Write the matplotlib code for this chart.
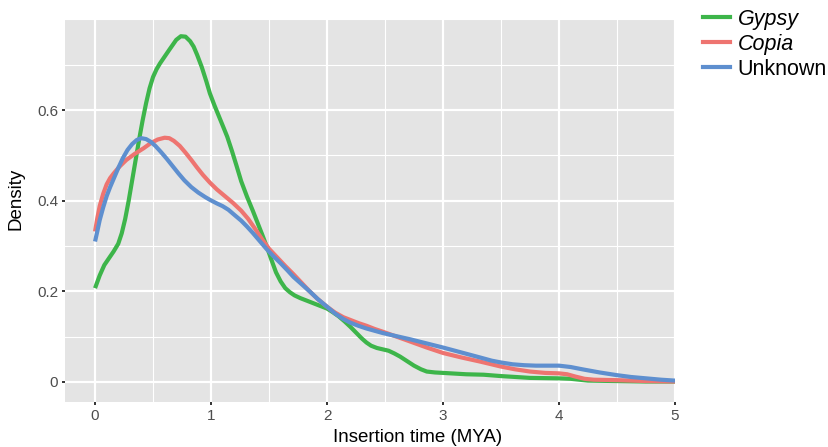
import matplotlib
matplotlib.use("Agg")
import matplotlib.pyplot as plt
from matplotlib.lines import Line2D
from matplotlib.ticker import MultipleLocator

plt.rcParams['font.family'] = ['Liberation Sans', 'DejaVu Sans']

# ---- data ----
gypsy_x = [0.00, 0.04, 0.08, 0.12, 0.16, 0.20, 0.23, 0.26, 0.29, 0.32, 0.35, 0.38, 0.41, 0.44,
           0.47, 0.50, 0.53, 0.56, 0.60, 0.64, 0.67, 0.70, 0.74, 0.78, 0.82, 0.85, 0.88, 0.92,
           0.96, 0.99, 1.03, 1.07, 1.11, 1.14, 1.18, 1.22, 1.26, 1.31, 1.36, 1.40, 1.44, 1.48,
           1.52, 1.56, 1.60, 1.64, 1.68, 1.72, 1.77, 1.85, 1.94, 2.00, 2.05, 2.10, 2.15, 2.20,
           2.25, 2.30, 2.34, 2.38, 2.43, 2.48, 2.53, 2.58, 2.63, 2.69, 2.75, 2.81, 2.86, 2.93,
           3.00, 3.20, 3.35, 3.50, 3.75, 4.00, 4.10, 4.25, 4.50, 4.75, 5.00]
gypsy_y = [0.207, 0.235, 0.258, 0.273, 0.288, 0.305, 0.328, 0.360, 0.400, 0.445, 0.490, 0.535,
           0.577, 0.615, 0.648, 0.673, 0.690, 0.703, 0.718, 0.733, 0.744, 0.755, 0.763, 0.762,
           0.752, 0.740, 0.722, 0.695, 0.663, 0.637, 0.610, 0.585, 0.560, 0.541, 0.510, 0.477,
           0.443, 0.409, 0.378, 0.352, 0.326, 0.299, 0.270, 0.242, 0.222, 0.207, 0.198, 0.191,
           0.185, 0.177, 0.168, 0.162, 0.154, 0.145, 0.134, 0.122, 0.109, 0.096, 0.087, 0.080,
           0.075, 0.072, 0.069, 0.063, 0.056, 0.046, 0.036, 0.028, 0.023, 0.021, 0.020, 0.017,
           0.016, 0.013, 0.009, 0.008, 0.007, 0.003, 0.002, 0.001, 0.001]

copia_x = [0.00, 0.02, 0.04, 0.07, 0.10, 0.13, 0.16, 0.21, 0.27, 0.34, 0.42, 0.48, 0.54, 0.60,
           0.64, 0.68, 0.73, 0.78, 0.83, 0.88, 0.93, 0.99, 1.05, 1.12, 1.19, 1.26, 1.32, 1.38,
           1.44, 1.50, 1.57, 1.64, 1.71, 1.78, 1.85, 1.92, 2.00, 2.07, 2.14, 2.20, 2.27, 2.34,
           2.41, 2.48, 2.60, 2.72, 2.86, 3.00, 3.16, 3.32, 3.50, 3.62, 3.75, 3.88, 4.00, 4.07,
           4.14, 4.22, 4.30, 4.50, 4.75, 5.00]
copia_y = [0.332, 0.362, 0.388, 0.415, 0.436, 0.450, 0.460, 0.475, 0.490, 0.503, 0.516, 0.527,
           0.535, 0.539, 0.538, 0.532, 0.521, 0.506, 0.490, 0.473, 0.457, 0.440, 0.425, 0.410,
           0.395, 0.378, 0.360, 0.338, 0.315, 0.294, 0.275, 0.256, 0.238, 0.219, 0.200, 0.183,
           0.166, 0.153, 0.143, 0.137, 0.130, 0.124, 0.117, 0.111, 0.100, 0.089, 0.076, 0.064,
           0.054, 0.045, 0.034, 0.028, 0.023, 0.020, 0.019, 0.017, 0.012, 0.007, 0.005, 0.004,
           0.002, 0.001]

unknown_x = [0.00, 0.02, 0.04, 0.07, 0.10, 0.13, 0.16, 0.20, 0.24, 0.28, 0.32, 0.36, 0.40, 0.44,
             0.48, 0.52, 0.57, 0.62, 0.67, 0.72, 0.77, 0.83, 0.89, 0.95, 0.99, 1.05, 1.10, 1.15,
             1.20, 1.26, 1.31, 1.36, 1.42, 1.48, 1.54, 1.60, 1.66, 1.71, 1.78, 1.85, 1.92, 2.00,
             2.07, 2.14, 2.20, 2.27, 2.34, 2.41, 2.48, 2.60, 2.72, 2.86, 3.00, 3.16, 3.32, 3.42,
             3.50, 3.60, 3.70, 3.80, 3.90, 4.00, 4.10, 4.20, 4.35, 4.50, 4.62, 4.75, 4.88, 5.00]
unknown_y = [0.310, 0.333, 0.357, 0.385, 0.410, 0.430, 0.448, 0.472, 0.494, 0.512, 0.525, 0.534,
             0.538, 0.536, 0.530, 0.521, 0.507, 0.492, 0.476, 0.460, 0.445, 0.430, 0.418, 0.408,
             0.402, 0.394, 0.388, 0.380, 0.369, 0.356, 0.343, 0.329, 0.311, 0.293, 0.277, 0.262,
             0.246, 0.232, 0.216, 0.200, 0.183, 0.166, 0.151, 0.139, 0.131, 0.124, 0.118, 0.113,
             0.108, 0.101, 0.094, 0.085, 0.076, 0.065, 0.054, 0.047, 0.043, 0.039, 0.037, 0.036,
             0.036, 0.036, 0.033, 0.028, 0.021, 0.015, 0.011, 0.008, 0.005, 0.003]

series_names = ['Gypsy', 'Copia', 'Unknown']
series_colors = ['#3DB54A', '#EE7470', '#5E8FCF']
x_ticks = [0, 1, 2, 3, 4, 5]
y_ticks = [0, 0.2, 0.4, 0.6]
y_tick_labels = ['0', '0.2', '0.4', '0.6']

# ---- figure ----
W, H = 829, 447
fig = plt.figure(figsize=(W / 100, H / 100), dpi=100)
L, R, T, B = 65, 675, 19, 402
ax = fig.add_axes([L / W, 1 - B / H, (R - L) / W, (B - T) / H])
ax.set_facecolor('#E4E4E4')
for s in ax.spines.values():
    s.set_visible(False)

ax.set_xlim(-0.259, 5.0)
ax.set_ylim(-0.0442, 0.801)
ax.set_xticks(x_ticks)
ax.set_xticklabels([str(t) for t in x_ticks])
ax.set_yticks(y_ticks)
ax.set_yticklabels(y_tick_labels)
ax.xaxis.set_minor_locator(MultipleLocator(0.5))
ax.yaxis.set_minor_locator(MultipleLocator(0.1))
ax.grid(which='major', color='white', linewidth=1.6)
ax.grid(which='minor', color='white', linewidth=0.8)
ax.set_axisbelow(True)
ax.tick_params(which='major', length=2, width=1.4, color='#333333',
               labelsize=11, labelcolor='#4D4D4D', pad=3)
ax.tick_params(which='minor', length=0)

for xs, ys, c in zip([gypsy_x, copia_x, unknown_x], [gypsy_y, copia_y, unknown_y], series_colors):
    ax.plot(xs, ys, color=c, lw=3, solid_joinstyle='round', solid_capstyle='butt', zorder=3)

ax.set_xlabel('Insertion time (MYA)', fontsize=13.5, color='black')
ax.xaxis.set_label_coords((418 - L) / (R - L), -0.07)
ax.set_ylabel('Density', fontsize=13.5, color='black')
ax.yaxis.set_label_coords(-0.067, (B - 199) / (B - T))

handles = [Line2D([0], [0], color=c, lw=3) for c in series_colors]
leg = fig.legend(handles, series_names, loc='upper left',
                 bbox_to_anchor=(703 / W, 1 - 9 / H), frameon=False,
                 fontsize=15.5, handlelength=1.25, handletextpad=0.35,
                 labelspacing=0.18, borderaxespad=0, borderpad=0)
for txt, name in zip(leg.get_texts(), series_names):
    if name in ('Gypsy', 'Copia'):
        txt.set_fontstyle('italic')

fig.savefig('out.png', dpi=100)
